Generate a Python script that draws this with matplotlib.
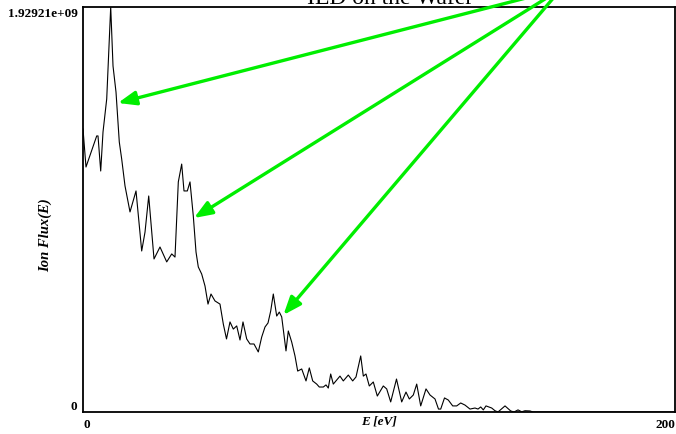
import numpy as np
import matplotlib
matplotlib.use("Agg")
import matplotlib.pyplot as plt

plt.rcParams["font.family"] = ["Liberation Serif", "DejaVu Serif"]

# ── Data (E in eV, flux in units of 1e9) ─────────────────────────────────
energy_ev = [
    0.0, 1.01, 4.63, 5.07, 5.98, 6.76, 8.01, 9.36, 10.14, 11.15,
    12.26, 13.07, 14.19, 15.88, 17.91, 19.83, 20.95, 22.20, 23.99, 26.01,
    28.28, 29.97, 31.08, 32.20, 33.34, 34.12, 35.24, 36.15, 37.26, 38.18,
    38.95, 40.10, 41.22, 42.23, 43.24, 44.59, 46.28, 47.40, 48.48, 49.66,
    50.78, 51.93, 53.04, 54.05, 55.30, 56.42, 57.77, 59.22, 60.37, 61.49,
    62.50, 63.41, 64.29, 65.44, 66.32, 67.13, 68.58, 69.36, 70.51, 71.62,
    72.53, 73.89, 75.34, 76.45, 77.60, 78.95, 79.83, 81.18, 82.09, 82.87,
    83.68, 84.56, 86.82, 87.94, 89.63, 91.11, 92.23, 93.82, 94.70, 95.61,
    96.72, 98.07, 99.43, 101.45, 102.60, 103.95, 105.91, 107.67, 109.12, 110.24,
    111.59, 112.74, 114.09, 115.88, 117.23, 118.92, 120.10, 120.85, 122.13, 123.41,
    124.90, 126.25, 127.60, 129.05, 130.74, 132.43, 133.45, 134.36, 135.24, 136.15,
    138.07, 139.19, 140.20, 142.57, 144.49, 145.61, 146.96, 148.21, 149.32, 151.01,
    152.03, 154.39, 200.0,
]
flux_e9 = [
    1.348, 1.167, 1.315, 1.315, 1.148, 1.334, 1.491, 1.92921, 1.648, 1.524,
    1.286, 1.205, 1.077, 0.953, 1.053, 0.767, 0.857, 1.029, 0.729, 0.786,
    0.715, 0.753, 0.738, 1.096, 1.181, 1.053, 1.053, 1.096, 0.934, 0.762,
    0.691, 0.657, 0.600, 0.514, 0.562, 0.529, 0.514, 0.419, 0.348, 0.429,
    0.395, 0.410, 0.343, 0.429, 0.348, 0.324, 0.324, 0.286, 0.357, 0.405,
    0.424, 0.481, 0.562, 0.457, 0.476, 0.453, 0.291, 0.386, 0.333, 0.267,
    0.195, 0.205, 0.148, 0.210, 0.148, 0.133, 0.119, 0.119, 0.129, 0.114,
    0.181, 0.133, 0.171, 0.148, 0.176, 0.148, 0.167, 0.267, 0.171, 0.181,
    0.124, 0.143, 0.076, 0.124, 0.110, 0.048, 0.157, 0.048, 0.095, 0.062,
    0.081, 0.133, 0.029, 0.110, 0.081, 0.062, 0.014, 0.014, 0.067, 0.057,
    0.029, 0.029, 0.043, 0.033, 0.014, 0.019, 0.014, 0.024, 0.010, 0.029,
    0.019, 0.006, 0.0, 0.029, 0.005, 0.0, 0.010, 0.001, 0.006, 0.005,
    0.0, 0.0, 0.0,
]
flux_max = 1.92921e9

# arrow tips (E, flux/1e9) and common origin above the figure (pixels)
arrow_tips = [(11.8, 1.472), (37.5, 0.924), (67.7, 0.462)]
arrow_origin_px = (561, 445)

flux = np.array(flux_e9) * 1e9

W, H = 676, 435
fig = plt.figure(figsize=(W / 100, H / 100), dpi=100)
ax = fig.add_axes([83 / W, 22 / H, 592 / W, 405 / H])

ax.plot(energy_ev, flux, color="black", lw=0.8)
ax.set_xlim(0, 200)
ax.set_ylim(0, flux_max)

for s in ax.spines.values():
    s.set_linewidth(1.3)
    s.set_color("black")

ax.tick_params(length=0, labelsize=9.5, pad=4)
ax.set_xticks([0, 200])
ax.set_xticklabels(["0", "200"], fontweight="bold")
xl = ax.get_xticklabels()
xl[0].set_ha("left")
xl[1].set_ha("right")
ax.set_yticks([0, flux_max])
ax.set_yticklabels(["0", "1.92921e+09"], fontweight="bold")
yl = ax.get_yticklabels()
yl[0].set_va("bottom")
yl[1].set_va("top")

ax.set_xlabel("E [eV]", fontsize=9.5, fontweight="bold", style="italic", va="center")
ax.xaxis.set_label_coords(0.50, -0.022)
ax.set_ylabel("Ion Flux(E)", fontsize=10.5, fontweight="bold", style="italic", va="center")
ax.yaxis.set_label_coords(-0.064, 0.44)

fig.text(390 / W, 1 - 4 / H, "IED on the Wafer", fontsize=17, ha="center", va="baseline")

for e, f in arrow_tips:
    ax.annotate(
        "", xy=(e, f * 1e9), xycoords="data",
        xytext=arrow_origin_px, textcoords="figure pixels",
        annotation_clip=False,
        arrowprops=dict(arrowstyle="-|>,head_length=0.9,head_width=0.35",
                        color="#00ee00", lw=2.4, mutation_scale=12,
                        shrinkA=0, shrinkB=0),
    )

fig.savefig("out.png", dpi=100)
